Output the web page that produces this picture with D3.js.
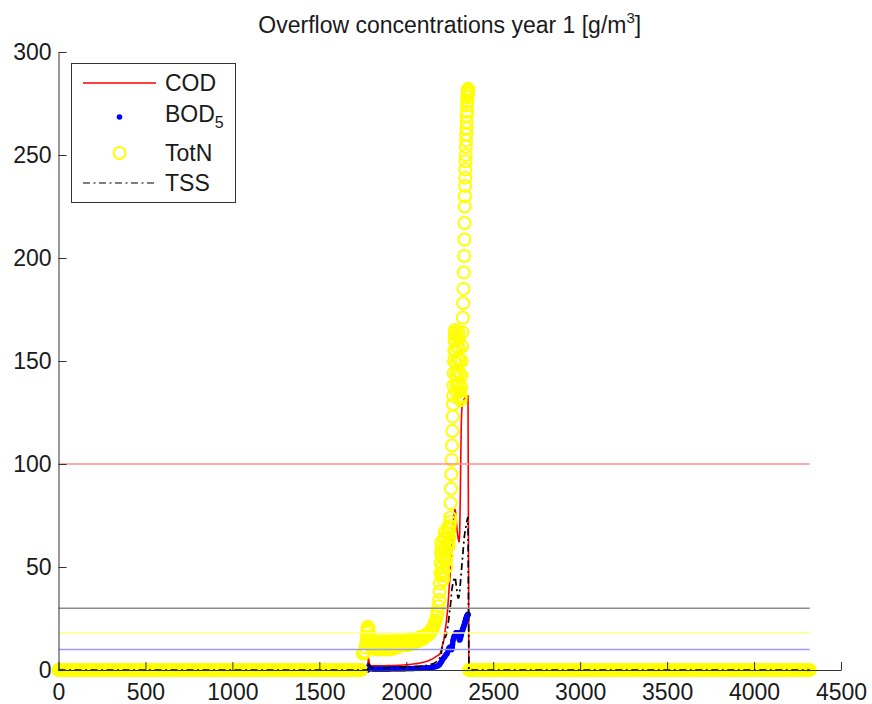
<!DOCTYPE html>
<html>
<head>
<meta charset="utf-8">
<script src="https://cdn.jsdelivr.net/npm/d3@7"></script>
<style>
  body { margin: 0; background: #fff; }
  text { font-family: "Liberation Sans", Arial, Helvetica, sans-serif; fill: #1a1a1a; }
</style>
</head>
<body>
<div id="chart"></div>
<script>
const xTicks = [0, 500, 1000, 1500, 2000, 2500, 3000, 3500, 4000, 4500];
const yTicks = [0, 50, 100, 150, 200, 250, 300];

// dry weather: no overflow, all concentrations are zero in these windows
const dryBefore = [0, 1740];
const dryAfter = [2360, 4320];
const dryStep = 10;

// the overflow event (COD, BOD5, TSS share these sample times)
const eventT = [1750, 1760, 1770, 1775, 1778, 1782, 1790,
  1800, 1810, 1820, 1830, 1840, 1850, 1860, 1870, 1880, 1890,
  1900, 1910, 1920, 1930, 1940, 1950, 1960, 1970, 1980, 1990,
  2000, 2010, 2020, 2030, 2040, 2050, 2060, 2070, 2080, 2090,
  2100, 2110, 2120, 2130, 2140, 2150, 2160, 2170, 2180, 2190,
  2195, 2200, 2205, 2210, 2215, 2220, 2225, 2230, 2235, 2240, 2245, 2250,
  2253, 2256, 2258, 2260, 2262, 2264, 2266, 2268,
  2271, 2274, 2277, 2280, 2283, 2286, 2289, 2292, 2295, 2298, 2301, 2304, 2307, 2310, 2313, 2316,
  2318, 2320, 2322, 2324, 2326, 2328, 2330, 2332, 2334, 2336,
  2338, 2339, 2340, 2341, 2342, 2343, 2344, 2345, 2346, 2347, 2348, 2349, 2350, 2351, 2352, 2353, 2354, 2355];

const cod = [0, 0, 0, 0, 0, 6, 2.5,
  2, 2, 2, 2, 2, 2, 2, 2, 2, 2.1,
  2.1, 2.1, 2.2, 2.2, 2.2, 2.3, 2.3, 2.3, 2.4, 2.4,
  2.5, 2.6, 2.7, 2.8, 2.9, 3, 3.1, 3.2, 3.4, 3.6,
  3.8, 4, 4.3, 4.6, 5, 5.4, 5.9, 6.5, 7, 7.5,
  8, 9.5, 11, 12.5, 14, 17, 20, 23, 27, 32, 38, 44,
  48, 52, 55, 58, 61, 63, 66, 69,
  72, 75, 77, 78, 77, 74, 71, 68, 66, 64, 63, 62, 66, 80, 100, 118,
  124, 127, 129, 130, 130, 130.5, 131, 131, 131.5, 131.5,
  132, 132, 132, 132, 132.5, 132.5, 132.5, 132.5, 133, 133, 133, 133, 133, 133, 133, 133, 133, 133];

const bod5 = [0, 0, 0, 0, 0, 1.5, 0.8,
  0.6, 0.5, 0.5, 0.5, 0.5, 0.5, 0.5, 0.5, 0.5, 0.5,
  0.5, 0.6, 0.6, 0.6, 0.6, 0.6, 0.6, 0.6, 0.6, 0.6,
  0.7, 0.7, 0.7, 0.7, 0.7, 0.8, 0.8, 0.8, 0.8, 0.9,
  0.9, 1, 1, 1.1, 1.2, 1.3, 1.5, 1.7, 2, 2.6,
  3.2, 3.8, 4.5, 5.2, 5.8, 6.3, 7, 7.5, 8, 9.5, 10.5, 11,
  11, 10.5, 10, 10, 10.3, 11, 12.5, 14,
  15, 16, 16.5, 17, 17.5, 18, 18, 18, 18, 17.5, 16, 15, 14.6, 15, 16, 17,
  18, 18.5, 19, 19.5, 20, 20.5, 21, 21.5, 22, 22.5,
  23, 23.3, 23.6, 23.9, 24.2, 24.5, 24.8, 25, 25.3, 25.6, 25.8, 26, 26.2, 26.4, 26.6, 26.7, 26.8, 27];

const tss = [0, 0, 0, 0, 0, 4, 1.5,
  1.2, 1.2, 1.1, 1.1, 1.1, 1.1, 1.1, 1.1, 1.1, 1.2,
  1.2, 1.2, 1.2, 1.2, 1.3, 1.3, 1.3, 1.3, 1.3, 1.4,
  1.4, 1.4, 1.5, 1.5, 1.5, 1.6, 1.6, 1.7, 1.8, 1.9,
  2, 2.1, 2.3, 2.5, 2.8, 3, 3.3, 3.8, 4.5, 5.5,
  6, 7.5, 10, 12.5, 14.5, 15.5, 16, 17, 19, 22, 25, 29,
  31, 33, 35, 37, 39, 40, 41, 42,
  43, 44, 45, 45, 44, 42, 40, 38, 36, 35, 35, 36, 38, 41, 44, 47,
  49, 51, 53, 55, 57, 59, 61, 63, 65, 66,
  67, 67.5, 68, 68.5, 69, 69.5, 70, 70.5, 71, 71.5, 72, 72.5, 73, 73.2, 73.5, 73.8, 74, 74];

// TotN is sampled more densely during the event: [time, g/m3]
const totnEvent = [
  [1750, 8], [1755, 8], [1760, 9], [1765, 11], [1770, 13], [1773, 16], [1775, 18], [1777, 20],
  [1779, 21], [1781, 20], [1783, 19], [1786, 16], [1790, 13], [1795, 12],
  [1800, 11], [1805, 12], [1810, 13], [1815, 11], [1820, 10], [1825, 11], [1830, 12], [1835, 14],
  [1840, 13], [1845, 11], [1850, 10], [1855, 10], [1860, 11], [1865, 13], [1870, 14], [1875, 12],
  [1880, 10], [1885, 10], [1890, 11], [1895, 13], [1900, 14], [1905, 13], [1910, 11], [1915, 10],
  [1920, 11], [1925, 12], [1930, 14], [1935, 14], [1940, 12], [1945, 11], [1950, 11], [1955, 12],
  [1960, 14], [1965, 14], [1970, 13], [1975, 12], [1980, 12], [1985, 13], [1990, 14], [1995, 14],
  [2000, 13], [2005, 12], [2010, 12], [2015, 13], [2020, 14], [2025, 15], [2030, 14], [2035, 13],
  [2040, 13], [2045, 14], [2050, 15], [2055, 15], [2060, 15], [2065, 14], [2070, 14], [2075, 15],
  [2080, 16], [2085, 16], [2090, 16], [2095, 15], [2100, 16], [2105, 16], [2110, 17], [2115, 17],
  [2120, 17], [2125, 17], [2130, 18], [2135, 18], [2140, 19], [2145, 19], [2150, 20], [2155, 21],
  [2160, 22], [2165, 23], [2170, 24], [2175, 26], [2180, 28], [2185, 31], [2190, 34],
  [2192, 38], [2194, 42], [2196, 47], [2198, 52], [2200, 57], [2202, 62], [2204, 60], [2206, 55],
  [2208, 50], [2210, 46], [2212, 44], [2214, 48], [2216, 54], [2218, 59], [2220, 64], [2222, 67],
  [2224, 63], [2226, 58], [2228, 53], [2230, 50], [2232, 55], [2234, 61], [2236, 66], [2238, 69],
  [2240, 66], [2242, 62], [2244, 60], [2246, 64], [2248, 68], [2250, 70], [2252, 72],
  [2253, 74], [2255, 81], [2257, 88], [2259, 95], [2261, 102], [2263, 109], [2265, 116], [2267, 123],
  [2269, 129], [2270, 133], [2271.5, 138], [2273, 144], [2274.5, 150], [2276, 155], [2277.5, 160],
  [2279, 163], [2280.5, 165], [2282, 164], [2283.5, 160], [2285, 155], [2286.5, 149], [2288, 143],
  [2289.5, 138], [2291, 135], [2292.5, 139], [2294, 145], [2295.5, 151], [2297, 157], [2298.5, 162],
  [2300, 164], [2301.5, 161], [2303, 156], [2304.5, 150], [2306, 144], [2307.5, 139], [2309, 135],
  [2310.5, 132], [2312, 131], [2313.5, 133], [2315, 137],
  [2317, 143], [2319, 150], [2321, 157], [2323, 164], [2325, 171], [2327, 178], [2329, 185],
  [2331, 193], [2333, 201], [2334, 209], [2335, 217], [2336, 225],
  [2337, 230], [2338, 235], [2339, 239], [2340, 243], [2341, 247], [2342, 250], [2343, 254],
  [2344, 257], [2345, 260], [2346, 263], [2347, 266], [2348, 269], [2349, 271], [2350, 274],
  [2351, 276], [2352, 278], [2353, 279], [2354, 280], [2354.5, 281], [2355, 281], [2355.5, 282], [2356, 282]
];

// limit values drawn as horizontal lines
const limitNames = ["COD", "BOD5", "TotN", "TSS"];
const limitValues = [100, 10, 18, 30];
const limitColors = ["#ff8f8f", "#9b9bff", "#ffff8c", "#8c8c8c"];

const width = 872;
const height = 704;
const margin = { left: 58.5, right: 31, top: 52, bottom: 34 };
const fontSize = "23px";

const svg = d3.select("#chart")
    .append("svg")
    .attr("width", width)
    .attr("height", height);

const x = d3.scaleLinear().domain([0, 4500]).range([margin.left, width - margin.right]);
const y = d3.scaleLinear().domain([0, 300]).range([height - margin.bottom, margin.top]);

const dryT1 = d3.range(dryBefore[0], dryBefore[1] + 1, dryStep);
const dryT2 = d3.range(dryAfter[0], dryAfter[1] + 1, dryStep);

function withDry(points) {
    return [...dryT1.map(t => [t, 0]), ...points, ...dryT2.map(t => [t, 0])];
}
function fullSeries(vals) {
    return withDry(eventT.map((t, i) => [t, vals[i]]));
}

const line = d3.line().x(d => x(d[0])).y(d => y(d[1]));
const dashDot = "7,3.5,2,3.5";

// COD
svg.append("path")
    .attr("d", line(fullSeries(cod)))
    .attr("fill", "none")
    .attr("stroke", "#ff0000")
    .attr("stroke-width", 1.6);

// BOD5 dots
svg.append("g")
    .selectAll("circle")
    .data(fullSeries(bod5))
    .join("circle")
    .attr("cx", d => x(d[0]))
    .attr("cy", d => y(d[1]))
    .attr("r", 2.8)
    .attr("fill", "#0000ff");

// TotN circles
svg.append("g")
    .selectAll("circle")
    .data(withDry(totnEvent))
    .join("circle")
    .attr("cx", d => x(d[0]))
    .attr("cy", d => y(d[1]))
    .attr("r", 6)
    .attr("fill", "none")
    .attr("stroke", "#ffff00")
    .attr("stroke-width", 2);

// TSS
svg.append("path")
    .attr("d", line(fullSeries(tss)))
    .attr("fill", "none")
    .attr("stroke", "#000")
    .attr("stroke-width", 1.7)
    .attr("stroke-dasharray", dashDot);

// limits
limitValues.forEach((v, i) => {
    svg.append("line")
        .attr("x1", x(0))
        .attr("x2", x(dryAfter[1]))
        .attr("y1", y(v))
        .attr("y2", y(v))
        .attr("stroke", limitColors[i])
        .attr("stroke-width", 1.5);
});

// axes, ticks pointing inward
const axisColor = "#333";
const xAxis = svg.append("g")
    .attr("transform", `translate(0,${y(0)})`)
    .call(d3.axisBottom(x).tickValues(xTicks).tickFormat(d3.format("d"))
        .tickSize(-8).tickSizeOuter(0).tickPadding(14));
const yAxis = svg.append("g")
    .attr("transform", `translate(${x(0)},0)`)
    .call(d3.axisLeft(y).tickValues(yTicks).tickFormat(d3.format("d"))
        .tickSize(-8).tickSizeOuter(0).tickPadding(7));

[xAxis, yAxis].forEach(g => {
    g.selectAll("path, line").attr("stroke", axisColor);
    g.selectAll("text")
        .attr("font-size", fontSize)
        .attr("font-family", "Liberation Sans, Arial, sans-serif")
        .attr("fill", "#1a1a1a");
});

// title
const title = svg.append("text")
    .attr("x", (x(0) + x(4500)) / 2)
    .attr("y", 33)
    .attr("text-anchor", "middle")
    .attr("font-size", "23px")
    .text("Overflow concentrations year 1 [g/m");
title.append("tspan").attr("font-size", "15px").attr("dy", -10).text("3");
title.append("tspan").attr("dy", 10).text("]");

// legend
const legend = svg.append("g");
legend.append("rect")
    .attr("x", 71.5).attr("y", 63.5)
    .attr("width", 164).attr("height", 139)
    .attr("fill", "#fff")
    .attr("stroke", "#333");

const rowY = [83, 117, 153, 183];
const symX = [83, 156];
const textX = 165;

legend.append("line")
    .attr("x1", symX[0]).attr("x2", symX[1])
    .attr("y1", rowY[0]).attr("y2", rowY[0])
    .attr("stroke", "#ff0000").attr("stroke-width", 1.6);
legend.append("circle")
    .attr("cx", (symX[0] + symX[1]) / 2).attr("cy", rowY[1])
    .attr("r", 2.8).attr("fill", "#0000ff");
legend.append("circle")
    .attr("cx", (symX[0] + symX[1]) / 2).attr("cy", rowY[2])
    .attr("r", 6).attr("fill", "none")
    .attr("stroke", "#ffff00").attr("stroke-width", 2);
legend.append("line")
    .attr("x1", symX[0]).attr("x2", symX[1])
    .attr("y1", rowY[3]).attr("y2", rowY[3])
    .attr("stroke", "#555").attr("stroke-width", 1.4)
    .attr("stroke-dasharray", dashDot);

legend.append("text").attr("x", textX).attr("y", rowY[0] + 8).attr("font-size", fontSize).text("COD");
const bodLabel = legend.append("text").attr("x", textX).attr("y", rowY[1] + 5).attr("font-size", fontSize).text("BOD");
bodLabel.append("tspan").attr("font-size", "16px").attr("dy", 6).text("5");
legend.append("text").attr("x", textX).attr("y", rowY[2] + 8).attr("font-size", fontSize).text("TotN");
legend.append("text").attr("x", textX).attr("y", rowY[3] + 8).attr("font-size", fontSize).text("TSS");
</script>
</body>
</html>
